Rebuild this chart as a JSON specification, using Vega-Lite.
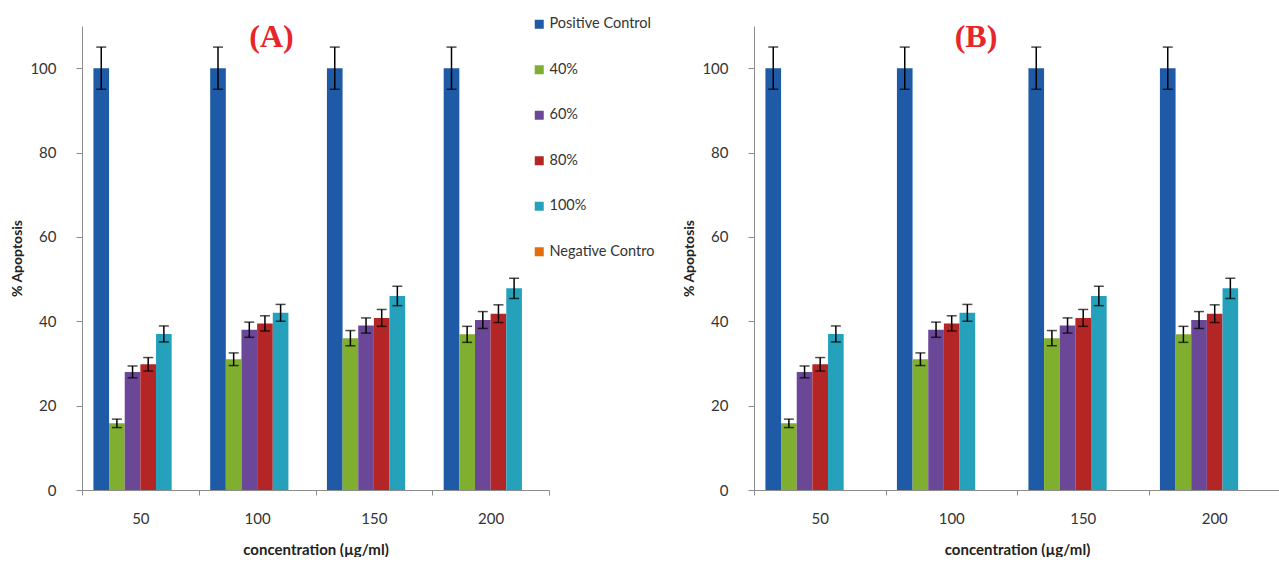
{
  "$schema": "https://vega.github.io/schema/vega-lite/v6.json",
  "padding": {"left": 10, "top": 17, "right": 0, "bottom": 0},
  "background": "white",
  "datasets": {
    "apop": [
      {"conc": 50, "series": "Positive Control", "value": 100, "err": 5},
      {"conc": 50, "series": "40%", "value": 15.8, "err": 1},
      {"conc": 50, "series": "60%", "value": 28, "err": 1.4},
      {"conc": 50, "series": "80%", "value": 29.8, "err": 1.6},
      {"conc": 50, "series": "100%", "value": 37, "err": 1.9},
      {"conc": 50, "series": "Negative Control", "value": 0, "err": 0},
      {"conc": 100, "series": "Positive Control", "value": 100, "err": 5},
      {"conc": 100, "series": "40%", "value": 31, "err": 1.5},
      {"conc": 100, "series": "60%", "value": 38, "err": 1.8},
      {"conc": 100, "series": "80%", "value": 39.5, "err": 1.8},
      {"conc": 100, "series": "100%", "value": 42, "err": 2},
      {"conc": 100, "series": "Negative Control", "value": 0, "err": 0},
      {"conc": 150, "series": "Positive Control", "value": 100, "err": 5},
      {"conc": 150, "series": "40%", "value": 36, "err": 1.8},
      {"conc": 150, "series": "60%", "value": 39, "err": 1.8},
      {"conc": 150, "series": "80%", "value": 40.8, "err": 2},
      {"conc": 150, "series": "100%", "value": 46, "err": 2.3},
      {"conc": 150, "series": "Negative Control", "value": 0, "err": 0},
      {"conc": 200, "series": "Positive Control", "value": 100, "err": 5},
      {"conc": 200, "series": "40%", "value": 36.9, "err": 1.9},
      {"conc": 200, "series": "60%", "value": 40.3, "err": 2},
      {"conc": 200, "series": "80%", "value": 41.8, "err": 2.1},
      {"conc": 200, "series": "100%", "value": 47.8, "err": 2.4},
      {"conc": 200, "series": "Negative Control", "value": 0, "err": 0}
    ]
  },
  "config": {
    "view": {"stroke": null},
    "font": "Lato",
    "axis": {
      "grid": false,
      "domainColor": "#8c8c8c",
      "tickColor": "#8c8c8c",
      "labelColor": "#333333",
      "titleColor": "#222222",
      "labelFont": "Lato",
      "titleFont": "Lato",
      "labelFontSize": 15,
      "titleFontSize": 14,
      "titleFontWeight": "bold"
    },
    "title": {"font": "Liberation Serif", "fontSize": 32, "fontWeight": "bold", "color": "#e8262a"}
  },
  "spacing": 132,
  "resolve": {"scale": {"color": "shared"}},
  "hconcat": [
    {
      "width": 467,
      "height": 464,
      "title": {"text": "(A)", "dx": -44, "offset": -28},
      "data": {"name": "apop"},
      "layer": [
        {
          "mark": {"type": "bar"},
          "encoding": {
            "x": {"field": "conc", "type": "ordinal", "scale": {"paddingInner": 0, "paddingOuter": 0},
                  "axis": {"title": "concentration (µg/ml)", "labelAngle": 0, "tickBand": "extent", "tickSize": 5, "labelPadding": 16, "titlePadding": 16, "titleFontSize": 15}},
            "xOffset": {"field": "series", "type": "nominal", "sort": ["Positive Control", "40%", "60%", "80%", "100%", "Negative Control"], "scale": {"paddingInner": 0, "paddingOuter": 0.73}},
            "y": {"field": "value", "type": "quantitative", "scale": {"domain": [0, 110], "nice": false},
                  "axis": {"title": "% Apoptosis", "values": [0, 20, 40, 60, 80, 100], "tickSize": 6, "labelPadding": 20, "titlePadding": 5}},
            "color": {"field": "series", "type": "nominal",
                      "scale": {"domain": ["Positive Control", "40%", "60%", "80%", "100%", "Negative Control"], "range": ["#1f5aa6", "#80ae2e", "#6b4797", "#b42626", "#25a1bc", "#e46c0a"]},
                      "legend": {"orient": "none", "legendX": 450, "legendY": -9, "title": null, "padding": 0, "symbolType": "square", "symbolSize": 81, "symbolStrokeWidth": 0, "labelFont": "Lato", "labelFontSize": 14.5, "labelColor": "#333333", "rowPadding": 30.5, "labelOffset": 3,
                                 "labelExpr": "datum.label == 'Negative Control' ? 'Negative Contro' : datum.label"}}
          }
        },
        {
          "transform": [{"filter": "datum.err > 0"}],
          "mark": {"type": "errorbar", "color": "black", "ticks": {"size": 10, "thickness": 1.5, "color": "black"}, "rule": {"strokeWidth": 1.5}},
          "encoding": {
            "x": {"field": "conc", "type": "ordinal"},
            "xOffset": {"field": "series", "type": "nominal", "sort": ["Positive Control", "40%", "60%", "80%", "100%", "Negative Control"]},
            "y": {"field": "value", "type": "quantitative", "title": "% Apoptosis"},
            "yError": {"field": "err"}
          }
        }
      ]
    },
    {
      "width": 526,
      "height": 464,
      "title": {"text": "(B)", "dx": -41, "offset": -28},
      "data": {"name": "apop"},
      "layer": [
        {
          "mark": {"type": "bar"},
          "encoding": {
            "x": {"field": "conc", "type": "ordinal", "scale": {"paddingInner": 0, "paddingOuter": 0},
                  "axis": {"title": "concentration (µg/ml)", "labelAngle": 0, "tickBand": "extent", "tickSize": 5, "labelPadding": 16, "titlePadding": 16, "titleFontSize": 15}},
            "xOffset": {"field": "series", "type": "nominal", "sort": ["Positive Control", "40%", "60%", "80%", "100%", "Negative Control"], "scale": {"paddingInner": 0, "paddingOuter": 0.73}},
            "y": {"field": "value", "type": "quantitative", "scale": {"domain": [0, 110], "nice": false},
                  "axis": {"title": "% Apoptosis", "values": [0, 20, 40, 60, 80, 100], "tickSize": 6, "labelPadding": 20, "titlePadding": 5}},
            "color": {"field": "series", "type": "nominal"}
          }
        },
        {
          "transform": [{"filter": "datum.err > 0"}],
          "mark": {"type": "errorbar", "color": "black", "ticks": {"size": 10, "thickness": 1.5, "color": "black"}, "rule": {"strokeWidth": 1.5}},
          "encoding": {
            "x": {"field": "conc", "type": "ordinal"},
            "xOffset": {"field": "series", "type": "nominal", "sort": ["Positive Control", "40%", "60%", "80%", "100%", "Negative Control"]},
            "y": {"field": "value", "type": "quantitative", "title": "% Apoptosis"},
            "yError": {"field": "err"}
          }
        }
      ]
    }
  ]
}
